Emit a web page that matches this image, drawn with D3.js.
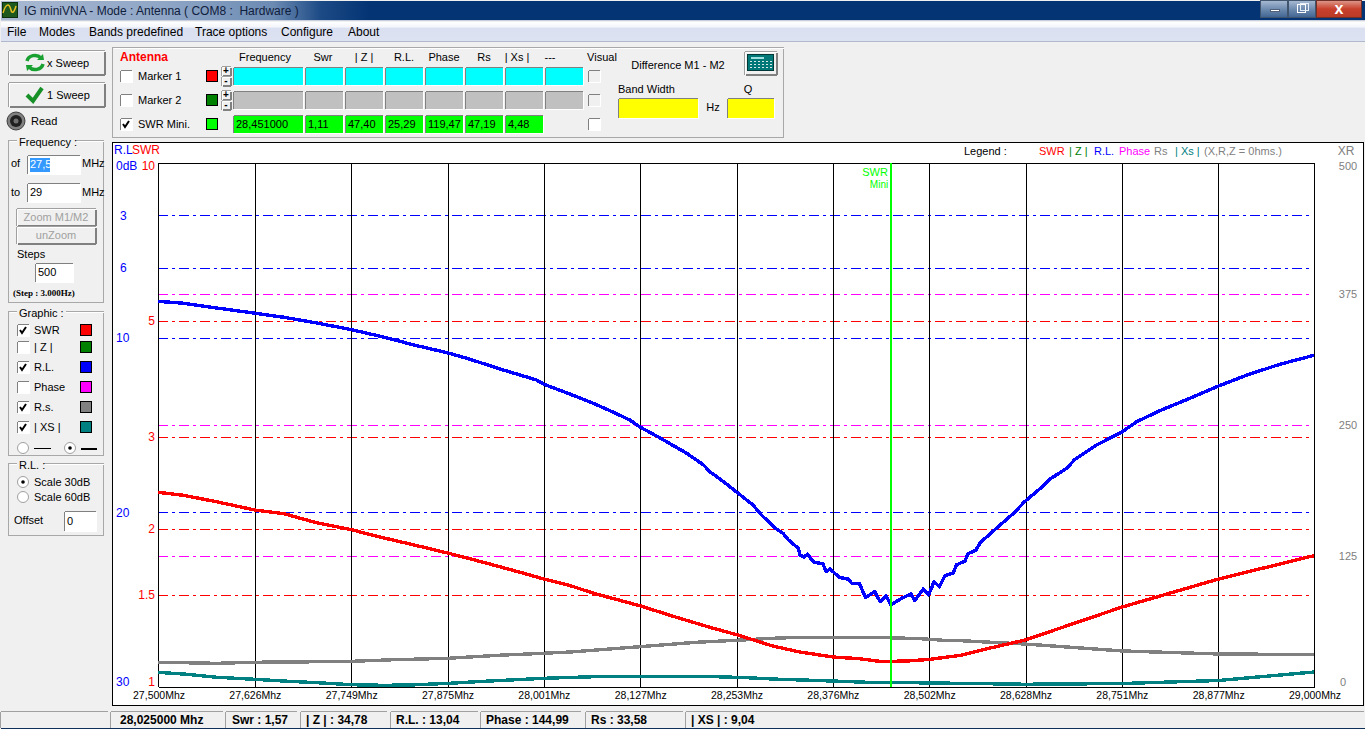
<!DOCTYPE html>
<html>
<head>
<meta charset="utf-8">
<title>IG miniVNA</title>
<script src="https://cdn.jsdelivr.net/npm/d3@7"></script>
<style>
  html, body { margin: 0; padding: 0; background: #f0f0f0; overflow: hidden; }
  svg { display: block; }
  text { font-family: "Liberation Sans", Arial, sans-serif; font-size: 11px; fill: #000; white-space: pre; }
</style>
</head>
<body>
<div id="container"></div>
<script>
//// DATA ///////////////////////////////////////////////////////////////////////
var gridFreqs = [27.5, 27.625, 27.75, 27.875, 28, 28.125, 28.25, 28.375, 28.5, 28.625, 28.75, 28.875, 29];
var tickLabels = ["27,500Mhz", "27,626Mhz", "27,749Mhz", "27,875Mhz", "28,001Mhz", "28,127Mhz", "28,253Mhz",
                  "28,376Mhz", "28,502Mhz", "28,628Mhz", "28,751Mhz", "28,877Mhz", "29,000Mhz"];

var rlTicks = [0, 3, 6, 10, 20, 30];
var rlTickLabels = ["0dB", "3", "6", "10", "20", "30"];
var swrTicks = [10, 5, 3, 2, 1.5, 1];
var xrTicks = [500, 375, 250, 125, 0];

var rlFreq = [27.5, 27.533, 27.576, 27.626, 27.663, 27.706, 27.751, 27.792, 27.836, 27.877, 27.905, 27.948, 27.97,
    27.991, 28.001, 28.03, 28.065, 28.091, 28.112, 28.126, 28.151, 28.186, 28.208, 28.216, 28.234, 28.252, 28.272,
    28.283, 28.301, 28.311, 28.318, 28.331, 28.333, 28.338, 28.343, 28.35, 28.363, 28.367, 28.372, 28.384, 28.396,
    28.4, 28.41, 28.418, 28.43, 28.437, 28.445, 28.451, 28.465, 28.477, 28.482, 28.493, 28.5, 28.507, 28.514, 28.521,
    28.532, 28.536, 28.547, 28.551, 28.561, 28.567, 28.588, 28.61, 28.625, 28.649, 28.657, 28.679, 28.69, 28.718,
    28.75, 28.77, 28.8, 28.839, 28.876, 28.913, 28.956, 29];
var rlValues = [7.92, 8.03, 8.3, 8.6, 8.83, 9.16, 9.54, 9.96, 10.46, 10.88, 11.24, 11.85, 12.14,
    12.42, 12.67, 13.15, 13.76, 14.27, 14.71, 15.13, 15.73, 16.62, 17.29, 17.67, 18.25, 18.88, 19.58,
    20.15, 20.91, 21.2, 21.58, 22.06, 22.44, 22.57, 22.39, 22.83, 22.96, 23.4, 23.24, 23.72, 23.83,
    24.06, 24.06, 24.89, 24.54, 25.12, 24.79, 25.3, 24.92, 24.68, 25.06, 24.39, 24.73, 23.97, 24.26, 23.64,
    23.46, 23.01, 22.79, 22.37, 22.18, 21.73, 20.91, 20.06, 19.37, 18.48, 18.11, 17.48, 16.96, 16.14,
    15.42, 14.81, 14.18, 13.47, 12.77, 12.14, 11.52, 11.01];

var swrFreq = [27.5, 27.533, 27.576, 27.626, 27.663, 27.706, 27.751, 27.792, 27.836, 27.877, 27.922, 27.965, 28.001,
    28.035, 28.065, 28.126, 28.173, 28.216, 28.252, 28.298, 28.333, 28.376, 28.411, 28.437, 28.45, 28.476, 28.501,
    28.541, 28.58, 28.625, 28.751, 28.876, 29];
var swrValues = [2.353, 2.322, 2.257, 2.176, 2.142, 2.058, 1.996, 1.927, 1.861, 1.8, 1.73, 1.663, 1.607,
    1.561, 1.51, 1.428, 1.358, 1.3, 1.257, 1.197, 1.166, 1.141, 1.132, 1.119, 1.119, 1.122, 1.129,
    1.149, 1.187, 1.229, 1.421, 1.607, 1.781];

var rsFreq = [27.5, 27.576, 27.626, 27.706, 27.751, 27.805, 27.877, 27.94, 28.001, 28.035, 28.126, 28.199, 28.252,
    28.298, 28.333, 28.45, 28.489, 28.519, 28.541, 28.625, 28.751, 28.876, 29];
var rsValues = [23.6, 22.6, 23.6, 24.1, 24.5, 26, 27.4, 30.2, 32.2, 33.4, 38.5, 42.7, 44.6,
    46.5, 47.4, 47, 46.1, 44.6, 44.2, 41, 34.4, 31.5, 31];

var xsFreq = [27.5, 27.533, 27.576, 27.626, 27.671, 27.706, 27.751, 27.792, 27.827, 27.877, 27.922, 27.965, 28.001,
    28.065, 28.225, 28.264, 28.298, 28.376, 28.42, 28.476, 28.541, 28.625, 28.751, 28.876, 29];
var xsValues = [14, 12.4, 9.3, 7.3, 5.4, 4.1, 2.2, 1.6, 1.9, 3.5, 5.4, 7, 8.3,
    9.8, 9.8, 8.9, 7.6, 5.7, 4.5, 4.1, 3.5, 2.6, 3.3, 6.2, 14.3];

var swrMiniFreq = 28.451;

var rlGrid = [3, 6, 10, 20];
var swrGrid = [5, 3, 2, 1.5];
var xrGrid = [375, 250, 125];

var markerHeaders = ["Frequency", "Swr", "| Z |", "R.L.", "Phase", "Rs", "| Xs |", "---"];
var swrMiniValues = ["28,451000", "1,11", "47,40", "25,29", "119,47", "47,19", "4,48"];
var statusTexts = ["28,025000 Mhz", "Swr : 1,57", "| Z | : 34,78", "R.L. : 13,04", "Phase : 144,99", "Rs : 33,58", "| XS | : 9,04"];
var menuItems = ["File", "Modes", "Bands predefined", "Trace options", "Configure", "About"];

//// SETTINGS ///////////////////////////////////////////////////////////////////
var width = 1365, height = 729;
var plot = { left: 158, right: 1314, top: 163, bottom: 687 };

var RED = "#ff0000", BLUE = "#0000ff", GREEN = "#00ff00", GRAY = "#808080", TEAL = "#008080", MAGENTA = "#ff00ff", DKGREEN = "#008000";
var GRIDDASH = "10,4,3,4";

var x = d3.scaleLinear().domain([27.5, 29]).range([plot.left, plot.right]);
var yRL = d3.scaleLinear().domain([0, 30]).range([plot.top, plot.bottom]);
var ySWR = d3.scaleLog().domain([1, 10]).range([plot.bottom, plot.top]);
var yXR = d3.scaleLinear().domain([0, 500]).range([plot.bottom, plot.top]);

var svg = d3.select("#container").append("svg").attr("width", width).attr("height", height);
var defs = svg.append("defs");

function gradient(id, horizontal, stops) {
    var g = defs.append("linearGradient").attr("id", id)
        .attr("x1", 0).attr("y1", 0).attr("x2", horizontal ? 1 : 0).attr("y2", horizontal ? 0 : 1);
    stops.forEach(function(s) { g.append("stop").attr("offset", s[0]).attr("stop-color", s[1]); });
}
gradient("titlegrad", true, [[0, "#a9b9d2"], [0.12, "#8fa6c6"], [0.2, "#6c8bb3"], [0.235, "#1c4a85"], [0.27, "#043474"], [1, "#043474"]]);
gradient("menugrad", false, [[0, "#ffffff"], [0.3, "#f3f5fb"], [0.34, "#dbe0f1"], [1, "#dde2f3"]]);
gradient("wingrad", false, [[0, "#a9bbd3"], [0.5, "#6f8cb0"], [1, "#3f6492"]]);
gradient("closegrad", false, [[0, "#dd9a8c"], [0.5, "#c8402c"], [1, "#b93a26"]]);

//// HELPERS ////////////////////////////////////////////////////////////////////
function label(text, px, py, opts) {
    opts = opts || {};
    return svg.append("text")
        .attr("x", px).attr("y", py)
        .attr("dy", ".35em")
        .attr("text-anchor", opts.anchor || "start")
        .style("fill", opts.color || "#000")
        .style("font-size", (opts.size || 11) + "px")
        .style("font-weight", opts.weight || "normal")
        .style("font-family", opts.family || null)
        .text(text);
}

function box(px, py, w, h, fill, stroke) {
    return svg.append("rect")
        .attr("x", px + 0.5).attr("y", py + 0.5).attr("width", w - 1).attr("height", h - 1)
        .attr("fill", fill || "none")
        .attr("stroke", stroke || "none")
        .attr("shape-rendering", "crispEdges");
}

function hv(px1, py1, px2, py2, color, sw) {
    return svg.append("line")
        .attr("x1", px1 + 0.5).attr("y1", py1 + 0.5).attr("x2", px2 + 0.5).attr("y2", py2 + 0.5)
        .attr("stroke", color).attr("stroke-width", sw || 1)
        .attr("shape-rendering", "crispEdges");
}

// A sunken windows cell: dark top and left edge, white bottom and right edge.
function sunken(px, py, w, h, fill) {
    box(px, py, w, h, fill);
    hv(px, py, px + w - 1, py, "#808080", 1);
    hv(px, py, px, py + h - 1, "#808080", 1);
    hv(px, py + h, px + w, py + h, "#ffffff", 1);
    hv(px + w, py, px + w, py + h, "#ffffff", 1);
}

function raised(px, py, w, h) {
    box(px, py, w, h, "#f0f0f0");
    hv(px, py, px + w, py, "#ffffff", 1);
    hv(px, py, px, py + h, "#ffffff", 1);
    hv(px, py + h, px + w, py + h, "#808080", 2);
    hv(px + w, py, px + w, py + h, "#808080", 2);
    hv(px - 1, py - 1, px + w, py - 1, "#a0a0a0", 1);
    hv(px - 1, py - 1, px - 1, py + h, "#a0a0a0", 1);
}

function checkbox(px, py, checked, fill) {
    sunken(px, py, 12, 12, fill || "#ffffff");
    if (checked) {
        svg.append("path")
            .attr("d", d3.line()([[px + 3, py + 6], [px + 5, py + 9], [px + 9, py + 3]]))
            .attr("fill", "none").attr("stroke", "#000").attr("stroke-width", 2);
    }
}

function radio(px, py, checked) {
    svg.append("circle").attr("cx", px).attr("cy", py).attr("r", 5.5)
        .attr("fill", "#fff").attr("stroke", "#a0a0a0");
    if (checked) svg.append("circle").attr("cx", px).attr("cy", py).attr("r", 1.8).attr("fill", "#000");
}

function swatch(px, py, color) {
    box(px, py, 12, 12, color, "#000");
}

function groupbox(px, py, w, h, title, titleW) {
    box(px, py, w, h, "none", "#a8a8a8");
    hv(px + 1, py + 1, px + w - 1, py + 1, "#ffffff", 1);
    box(px + 8, py - 3, titleW, 6, "#f0f0f0");
    label(title, px + 11, py + 2);
}

//// WINDOW CHROME //////////////////////////////////////////////////////////////
box(0, 0, width, height, "#f0f0f0");
box(0, 0, width, 21, "url(#titlegrad)");
hv(0, 20, width, 20, "#c8d0e0", 1);

// application icon
box(2, 2, 16, 16, "#1e5a1e", "#0c300c");
svg.append("path").attr("d", "M3,13 C6,3 9,3 11,10 C12,14 14,13 16,6")
    .attr("fill", "none").attr("stroke", "#e8c020").attr("stroke-width", 1.5);
label("IG miniVNA - Mode : Antenna ( COM8 :  Hardware )", 24, 10.5, { size: 12, color: "#10203c" });

// window buttons
box(1260, 0, 28, 18, "url(#wingrad)", "#40546e");
box(1288, 0, 28, 18, "url(#wingrad)", "#40546e");
box(1316, 0, 46, 18, "url(#closegrad)", "#6e3028");
box(1270, 9, 10, 3, "#ffffff", "#50607a");
box(1297, 4, 9, 9, "none", "#ffffff");
box(1300, 3, 9, 8, "none", "#e8eef8");
label("x", 1339, 8, { anchor: "middle", color: "#ffffff", size: 16, weight: "bold" });

box(0, 21, width, 20, "url(#menugrad)");
hv(0, 41, width, 41, "#b0b8cc", 1);
var menuX = [7, 39, 89, 195, 281, 348];
menuItems.forEach(function(m, i) { label(m, menuX[i], 32, { size: 12 }); });

//// LEFT PANEL /////////////////////////////////////////////////////////////////
raised(9, 51, 95, 23);
raised(9, 83, 95, 23);
// sweep arrows
svg.append("path").attr("d", "M27,61 A8,7 0 0 1 41,58").attr("fill", "none").attr("stroke", "#18a030").attr("stroke-width", 3.5);
svg.append("path").attr("d", "M43,64 A8,7 0 0 1 29,67").attr("fill", "none").attr("stroke", "#18a030").attr("stroke-width", 3.5);
svg.append("path").attr("d", "M37,60 L44,60 L43,54 Z").attr("fill", "#18a030");
svg.append("path").attr("d", "M33,65 L26,65 L27,71 Z").attr("fill", "#18a030");
label("x Sweep", 47, 63);
svg.append("path").attr("d", "M27,95 L33,101 L42,88").attr("fill", "none").attr("stroke", "#189028").attr("stroke-width", 4);
label("1 Sweep", 47, 95);

svg.append("circle").attr("cx", 16).attr("cy", 121).attr("r", 9).attr("fill", "#808080").attr("stroke", "#404040");
svg.append("circle").attr("cx", 16).attr("cy", 121).attr("r", 6).attr("fill", "#202020");
svg.append("circle").attr("cx", 16).attr("cy", 121).attr("r", 2.5).attr("fill", "#707070");
label("Read", 31, 121);

groupbox(8, 140, 96, 163, "Frequency :", 60);
label("of", 11, 163);
sunken(27, 155, 53, 19, "#ffffff");
box(29, 157, 21, 15, "#3399ff");
label("27,5", 30, 164.5, { color: "#ffffff" });
label("MHz", 82, 163);
label("to", 11, 192);
sunken(27, 183, 53, 19, "#ffffff");
label("29", 30, 192.5);
label("MHz", 82, 192);
raised(17, 209, 78, 16);
label("Zoom M1/M2", 56, 217, { anchor: "middle", color: "#a0a0a0" });
raised(17, 227, 78, 16);
label("unZoom", 56, 235, { anchor: "middle", color: "#a0a0a0" });
label("Steps", 17, 254);
sunken(35, 263, 38, 19, "#ffffff");
label("500", 38, 272.5);
label("(Step : 3.000Hz)", 13, 293, { size: 9, weight: "bold", family: "Liberation Serif" });

groupbox(8, 311, 96, 145, "Graphic :", 50);
var graphicNames = ["SWR", "| Z |", "R.L.", "Phase", "R.s.", "| XS |"];
var graphicChecked = [true, false, true, false, true, true];
var graphicColors = [RED, DKGREEN, BLUE, MAGENTA, GRAY, TEAL];
var graphicY = [330, 347, 367, 387, 407, 427];
graphicNames.forEach(function(n, i) {
    checkbox(17, graphicY[i] - 6, graphicChecked[i]);
    label(n, 34, graphicY[i]);
    swatch(80, graphicY[i] - 6, graphicColors[i]);
});
radio(23, 448, false);
hv(33, 448, 50, 448, "#000", 1);
radio(70, 448, true);
hv(80, 448, 96, 448, "#000", 2);

groupbox(8, 463, 96, 73, "R.L. :", 28);
radio(23, 482, true);
label("Scale 30dB", 34, 482);
radio(23, 497, false);
label("Scale 60dB", 34, 497);
label("Offset", 14, 520);
sunken(64, 511, 32, 20, "#ffffff");
label("0", 67, 521);

//// MARKER PANEL ///////////////////////////////////////////////////////////////
box(112, 47, 672, 91, "#f0f0f0", "#a8a8a8");
hv(113, 48, 783, 48, "#ffffff", 1);
label("Antenna", 120, 57, { color: RED, weight: "bold", size: 12 });

var cellX = [233, 305, 345, 385, 425, 465, 505, 545];
var cellW = [70, 38, 38, 38, 38, 38, 38, 38];
var headerX = [265, 323, 364, 404, 444, 484, 517, 550];
markerHeaders.forEach(function(h, i) { label(h, headerX[i], 57, { anchor: "middle" }); });
label("Visual", 602, 57, { anchor: "middle" });

var rowY = [67, 91, 115];
var rowFill = ["#00ffff", "#c0c0c0", GREEN];
var rowNames = ["Marker 1", "Marker 2", "SWR Mini."];
var rowSwatch = [RED, DKGREEN, GREEN];
rowY.forEach(function(ry, r) {
    checkbox(120, ry + 3, r === 2);
    label(rowNames[r], 138, ry + 9);
    swatch(206, ry + 3, rowSwatch[r]);
    if (r < 2) {
        [0, 1].forEach(function(k) {
            raised(222, ry + k * 10, 8, 8);
            label(k ? "-" : "+", 226, ry + k * 10 + 3.5, { anchor: "middle", size: 10, weight: "bold" });
        });
    }
    cellX.forEach(function(cx, c) {
        if (r === 2 && c === 7) return;
        sunken(cx, ry, cellW[c], 18, rowFill[r]);
        if (r === 2) label(swrMiniValues[c], cx + 3, ry + 9.5);
    });
    checkbox(588, ry + 3, false, r === 2 ? "#ffffff" : "#f0f0f0");
});

label("Difference M1 - M2", 678, 65, { anchor: "middle" });
raised(745, 52, 31, 22);
box(747, 54, 27, 17, "#007878", "#003838");
box(750, 56, 14, 3, "#a0e0e0");
d3.range(3).forEach(function(r) {
    d3.range(6).forEach(function(c) { box(749 + c * 4, 60 + r * 3, 3, 2, "#d8e8e8"); });
});
label("Band Width", 618, 89);
label("Q", 748, 89, { anchor: "middle" });
sunken(618, 98, 80, 20, "#ffff00");
label("Hz", 713, 107, { anchor: "middle" });
sunken(727, 98, 47, 20, "#ffff00");

//// CHART PANEL ////////////////////////////////////////////////////////////////
box(112, 142, 1252, 564, "#ffffff", "#000000");

var gHoriz = svg.append("g");
function append_grid(values, scale, color) {
    gHoriz.selectAll(null).data(values).enter().append("line")
        .attr("x1", plot.left).attr("x2", plot.right - 2)
        .attr("y1", function(d) { return Math.round(scale(d)) + 0.5; })
        .attr("y2", function(d) { return Math.round(scale(d)) + 0.5; })
        .attr("stroke", color).attr("stroke-dasharray", GRIDDASH)
        .attr("shape-rendering", "crispEdges");
}
append_grid(xrGrid, yXR, MAGENTA);
append_grid(swrGrid, ySWR, RED);
append_grid(rlGrid, yRL, BLUE);

// vertical lines and frequency labels come from the bottom axis
var xAxis = d3.axisBottom(x)
    .tickValues(gridFreqs)
    .tickFormat(function(d, i) { return tickLabels[i]; })
    .tickSize(-(plot.bottom - plot.top))
    .tickPadding(5)
    .offset(1);
var gx = svg.append("g").attr("transform", "translate(0," + plot.bottom + ")").call(xAxis);
gx.select(".domain").remove();
gx.selectAll("line").attr("stroke", "#000").attr("stroke-width", 1).attr("shape-rendering", "crispEdges");
gx.selectAll("text").style("font-family", null).style("font-size", "10.5px").style("fill", "#000");

// the frame sides sit a pixel further out than the inner grid lines
gx.selectAll("line").filter(function(d, i) { return i === 0; }).attr("x1", -1).attr("x2", -1);
gx.selectAll("line").filter(function(d, i) { return i === gridFreqs.length - 1; }).attr("x1", -1).attr("x2", -1);

// frame: top and bottom sides, the two other ones are the end grid lines
hv(plot.left, plot.top, plot.right, plot.top, "#000", 1);
hv(plot.left, plot.bottom, plot.right, plot.bottom, "#000", 1);

// curves
function append_curve(freqs, values, scale, color) {
    var line = d3.line()
        .x(function(d) { return x(d); })
        .y(function(d, i) { return scale(values[i]); });
    svg.append("path")
        .attr("d", line(freqs))
        .attr("fill", "none")
        .attr("stroke", color)
        .attr("stroke-width", 3.4)
        .attr("stroke-linejoin", "round")
        .attr("shape-rendering", "crispEdges");
}
append_curve(rsFreq, rsValues, yXR, GRAY);
append_curve(xsFreq, xsValues, yXR, TEAL);
append_curve(swrFreq, swrValues, ySWR, RED);
append_curve(rlFreq, rlValues, yRL, BLUE);

// minimum SWR marker
svg.append("line")
    .attr("x1", x(swrMiniFreq)).attr("x2", x(swrMiniFreq))
    .attr("y1", plot.top).attr("y2", plot.bottom)
    .attr("stroke", GREEN).attr("stroke-width", 2)
    .attr("shape-rendering", "crispEdges");
label("SWR", 875, 172, { anchor: "middle", color: GREEN, size: 11 });
label("Mini", 879, 184, { anchor: "middle", color: GREEN, size: 10 });

// axis labels, the two end ones stay inside the frame
function clampY(v) { return Math.max(166, Math.min(682, v)); }
label("R.L", 114, 150, { color: BLUE, size: 12 });
label("SWR", 132, 150, { color: RED, size: 12 });
rlTicks.forEach(function(t, i) {
    label(rlTickLabels[i], i === 0 ? 116 : (t < 10 ? 120 : 116), clampY(yRL(t)), { color: BLUE, size: 12 });
});
swrTicks.forEach(function(t) {
    label(String(t), 155, clampY(ySWR(t)), { color: RED, anchor: "end", size: 12 });
});
label("XR", 1346, 151, { color: GRAY, anchor: "middle", size: 12 });
xrTicks.forEach(function(t) {
    label(String(t), t === 0 ? 1343 : 1348, clampY(yXR(t)), { color: GRAY, anchor: "middle" });
});

// legend
label("Legend :", 964, 151);
var legendText = ["SWR", "| Z |", "R.L.", "Phase", "Rs", "| Xs |", "(X,R,Z = 0hms.)"];
var legendX = [1039, 1069, 1094, 1119, 1154, 1175, 1204];
var legendColor = [RED, DKGREEN, BLUE, MAGENTA, GRAY, TEAL, GRAY];
legendText.forEach(function(t, i) { label(t, legendX[i], 151, { color: legendColor[i], size: 11 }); });

//// STATUS BAR /////////////////////////////////////////////////////////////////
var statusX = [0, 110, 225, 300, 390, 480, 585, 685];
var statusW = [107, 112, 71, 86, 87, 100, 97, 678];
var statusTextX = [120, 232, 306, 396, 486, 591, 691];
statusX.forEach(function(sx, i) {
    box(sx, 711, statusW[i], 17, "#f0f0f0");
    hv(sx, 711, sx + statusW[i], 711, "#a0a0a0", 1);
    hv(sx, 711, sx, 727, "#a0a0a0", 1);
    if (i > 0) label(statusTexts[i - 1], statusTextX[i - 1], 720, { weight: "bold", size: 12 });
});
hv(0, 728, width, 728, "#10305c", 1);
</script>
</body>
</html>
